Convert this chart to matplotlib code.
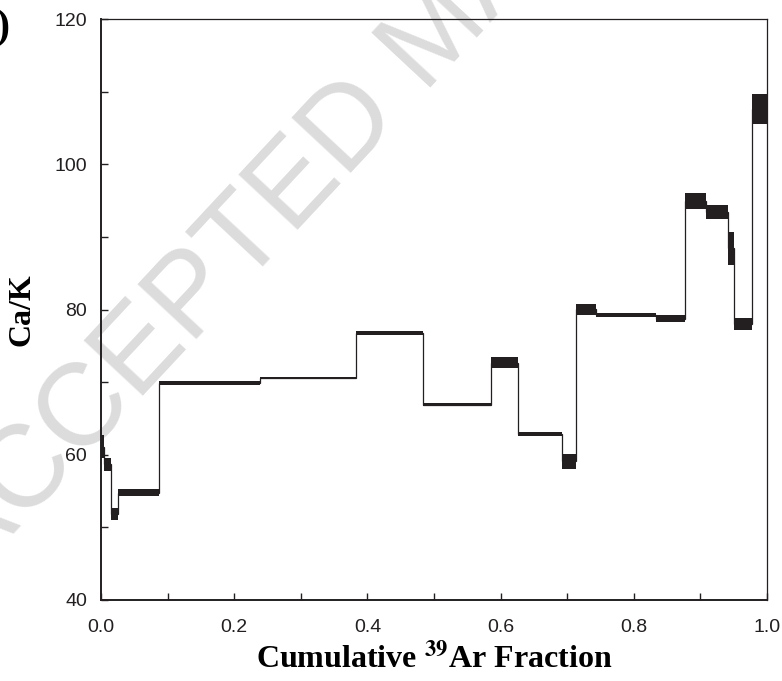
import numpy as np
import matplotlib
matplotlib.use("Agg")
import matplotlib.pyplot as plt

# step edges (cumulative 39Ar fraction)
edges = [0.0, 0.004, 0.015, 0.025, 0.0875, 0.239, 0.383, 0.483, 0.585, 0.626,
         0.692, 0.713, 0.743, 0.833, 0.877, 0.908, 0.942, 0.951, 0.978, 1.0]
# Ca/K per step and its error (half height of box)
ca_k = [61.1, 58.7, 51.8, 54.8, 69.9, 70.55, 76.8, 66.9, 72.7, 62.9,
        59.1, 80.05, 79.25, 78.75, 94.95, 93.4, 88.4, 78.0, 107.6]
err = [1.6, 0.9, 0.8, 0.5, 0.25, 0.12, 0.3, 0.25, 0.7, 0.3,
       1.05, 0.75, 0.3, 0.45, 1.15, 1.0, 2.3, 0.8, 2.1]

yticks = [40, 60, 80, 100, 120]
xticks = [0.0, 0.2, 0.4, 0.6, 0.8, 1.0]

plt.rcParams['mathtext.fontset'] = 'stix'
ink = '#231f20'

fig = plt.figure(figsize=(7.82, 6.81), dpi=100)
ax = fig.add_axes([101/782, 1 - 600/681, 666/782, 581/681])
ax.set_facecolor('none')

# watermark of the journal
fig.text(437/782, 1 - 36/681, 'ACCEPTED MANUSCRIPT', rotation=47, ha='center', va='center',
         rotation_mode='anchor', fontsize=84, color='#dcdcdc',
         family='Liberation Sans', zorder=-1)

e = np.array(edges)
v = np.array(ca_k)
s = np.array(err)
ax.stairs(v, e, baseline=None, color=ink, lw=0.9, zorder=2)
ax.bar(e[:-1], 2 * s, width=np.diff(e), bottom=v - s, align='edge',
       color=ink, linewidth=0, zorder=3)

ax.set_xlim(0, 1)
ax.set_ylim(40, 120)
ax.set_xticks(xticks)
ax.set_xticks(np.arange(0.1, 1.0, 0.2), minor=True)
ax.set_yticks(yticks)
ax.set_yticks([50, 70, 90, 110], minor=True)
ax.set_xticklabels(['%.1f' % t for t in xticks])
ax.tick_params(which='both', direction='in', length=5, width=1, colors=ink,
               labelsize=14, right=False, top=False)
ax.tick_params(axis='x', pad=14)
ax.tick_params(axis='y', pad=10)
for lab in ax.get_xticklabels() + ax.get_yticklabels():
    lab.set_family('Liberation Sans')

for side in ['left', 'bottom']:
    ax.spines[side].set_linewidth(1.4)
for side in ['top', 'right']:
    ax.spines[side].set_linewidth(0.9)
for sp in ax.spines.values():
    sp.set_color(ink)

ax.set_xlabel(r'Cumulative $^{\mathbf{39}}$Ar Fraction', family='Liberation Serif',
              fontweight='bold', fontsize=23)
ax.xaxis.set_label_coords(0.5, -0.072)
ax.set_ylabel('Ca/K', family='Liberation Serif', fontweight='bold', fontsize=23)
ax.yaxis.set_label_coords(-0.097, 0.5)

fig.text(10/782, 1 - 28/681, '(c)', ha='right', va='center',
         family='Liberation Serif', fontweight='bold', fontsize=30)

fig.savefig('out.png', dpi=100)
